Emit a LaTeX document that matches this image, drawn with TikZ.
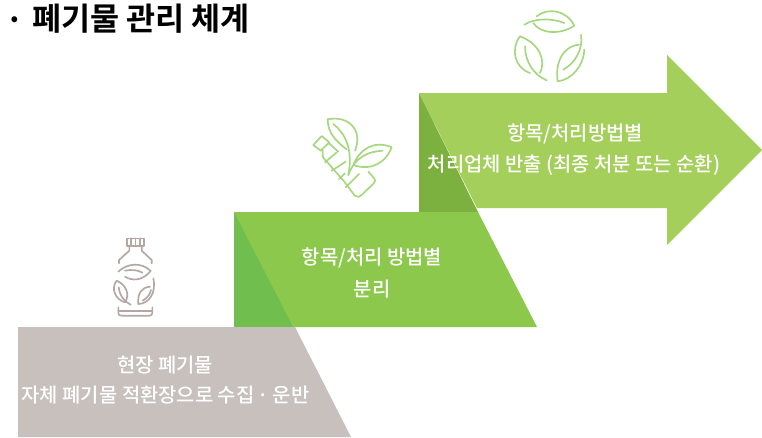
\documentclass[tikz,border=0pt]{standalone}
\usepackage{fontspec}
\setmainfont{Noto Sans CJK KR}[BoldFont={Noto Sans CJK KR Bold}]
\newfontfamily\medfont{Noto Sans CJK KR Medium}
\definecolor{greyshape}{HTML}{C7C0BC}
\definecolor{midgreen}{HTML}{8CC84B}
\definecolor{midover}{HTML}{70BF4E}
\definecolor{topgreen}{HTML}{A3CF5A}
\definecolor{topover}{HTML}{7DB13F}
\definecolor{icongrey}{HTML}{B3A8A3}
\definecolor{icongreen}{HTML}{A5D77F}
\tikzset{
  blocklabel/.style={text=white,font=\medfont\fontsize{14.9pt}{17pt}\selectfont,inner sep=0pt,anchor=center},
  iconline/.style={line width=1.25pt,line cap=round,line join=round},
}
\begin{document}
\begin{tikzpicture}[x=0.75pt,y=-0.75pt]
\useasboundingbox (0,0) rectangle (762,437);
% title
\node[anchor=center,inner sep=0pt,font=\fontsize{23.7pt}{26pt}\selectfont\bfseries] (title) at (141,19) {폐기물 관리 체계};
\node[anchor=center,inner sep=0pt,font=\fontsize{23.7pt}{26pt}\selectfont\bfseries] (dot) at (15,24) {·};
% top arrow
\fill[topgreen] (419,93) -- (667,93) -- (667,55) -- (762,150) -- (667,245) -- (667,208) -- (477,208) -- cycle;
\fill[topover] (419,93) -- (478,212) -- (419,212) -- cycle;
% middle block
\fill[midgreen] (234,212) -- (478,212) -- (537,327) -- (234,327) -- cycle;
\fill[midover] (234,212) -- (293,327) -- (234,327) -- cycle;
% grey block
\fill[greyshape] (18,327) -- (295,327) -- (351,437) -- (18,437) -- cycle;
% labels
\node[blocklabel] (g1) at (165,365) {현장 폐기물};
\node[blocklabel] (g2) at (165.5,395) {자체 폐기물 적환장으로 수집\hspace{-0.05em} · \hspace{-0.05em}운반};
\node[blocklabel] (m1) at (372,258) {항목/처리 방법별};
\node[blocklabel] (m2) at (372,289) {분리};
\node[blocklabel] (t1) at (575,134) {항목/처리방법별};
\node[blocklabel] (t2) at (574,165) {처리업체 반출 (최종 처분 또는 순환)};
% bottle icon
\begin{scope}[shift={(100,230)},scale=1/3,iconline,draw=icongrey]
\draw (80,25) rectangle (132,47);
\draw (93,25)--(93,47) (106,25)--(106,47) (119,25)--(119,47);
\draw (88,47)--(88,62)--(57,90)--(57,100);
\draw (125,47)--(125,62)--(155,90)--(155,100);
\draw (55,125) .. controls (80,100) and (125,95) .. (152,123) .. controls (125,155) and (95,152) .. (75,140);
\draw (75,122) .. controls (95,118) and (115,120) .. (127,128);
\draw (50,152) .. controls (32,175) and (45,208) .. (75,217) .. controls (90,195) and (80,165) .. (50,152);
\draw (56,172) .. controls (60,198) and (72,214) .. (92,224);
\draw (115,222) .. controls (112,190) and (125,172) .. (150,170);
\draw (115,222) .. controls (145,222) and (170,190) .. (160,145);
\draw (128,212) .. controls (140,205) and (150,195) .. (153,180);
\draw (55,232) -- (55,248) .. controls (55,255) and (58,257) .. (65,257) -- (148,257) .. controls (154,257) and (157,255) .. (157,248) -- (157,232);
\draw (55,243) -- (157,243);
\end{scope}
% plant and bottle icon
\begin{scope}[shift={(305,110)},scale=1/3,iconline,draw=icongreen]
\draw (68,28) .. controls (130,15) and (175,60) .. (150,122);
\draw (68,28) .. controls (68,70) and (95,95) .. (125,118);
\draw (85,42) .. controls (120,70) and (145,115) .. (130,195);
\draw (260,112) .. controls (210,90) and (165,115) .. (145,165) .. controls (200,185) and (245,155) .. (260,112);
\draw (232,122) .. controls (190,125) and (150,140) .. (130,195);
\draw (25,105) -- (50,78) -- (73,97) -- (47,122) -- cycle;
\draw (52,118) -- (54,142) -- (118,215);
\draw (72,100) -- (100,125);
\draw (60,157) -- (95,127);
\draw (80,182) -- (122,155);
\draw (102,207) -- (120,190);
\draw (118,215) -- (150,258);
\draw (122,232) -- (162,192);
\draw (190,185) -- (206,203) .. controls (212,210) and (212,214) .. (206,220) -- (170,255) .. controls (164,262) and (160,262) .. (152,258);
\end{scope}
% recycle leaves icon
\begin{scope}[shift={(505,3)},scale=1/3,iconline,draw=icongreen]
\draw (95,40) .. controls (130,12) and (185,22) .. (208,68) .. controls (165,97) and (105,92) .. (85,60);
\draw (58,65) .. controls (90,45) and (140,45) .. (178,60);
\draw (45,100) .. controls (15,140) and (30,195) .. (75,210);
\draw (45,100) .. controls (100,120) and (125,170) .. (105,210);
\draw (60,130) .. controls (60,175) and (85,215) .. (125,232);
\draw (158,235) .. controls (150,185) and (170,130) .. (222,125);
\draw (158,235) .. controls (200,230) and (235,190) .. (238,140);
\draw (228,95) .. controls (235,140) and (210,180) .. (175,200);
\end{scope}
\end{tikzpicture}
\end{document}
